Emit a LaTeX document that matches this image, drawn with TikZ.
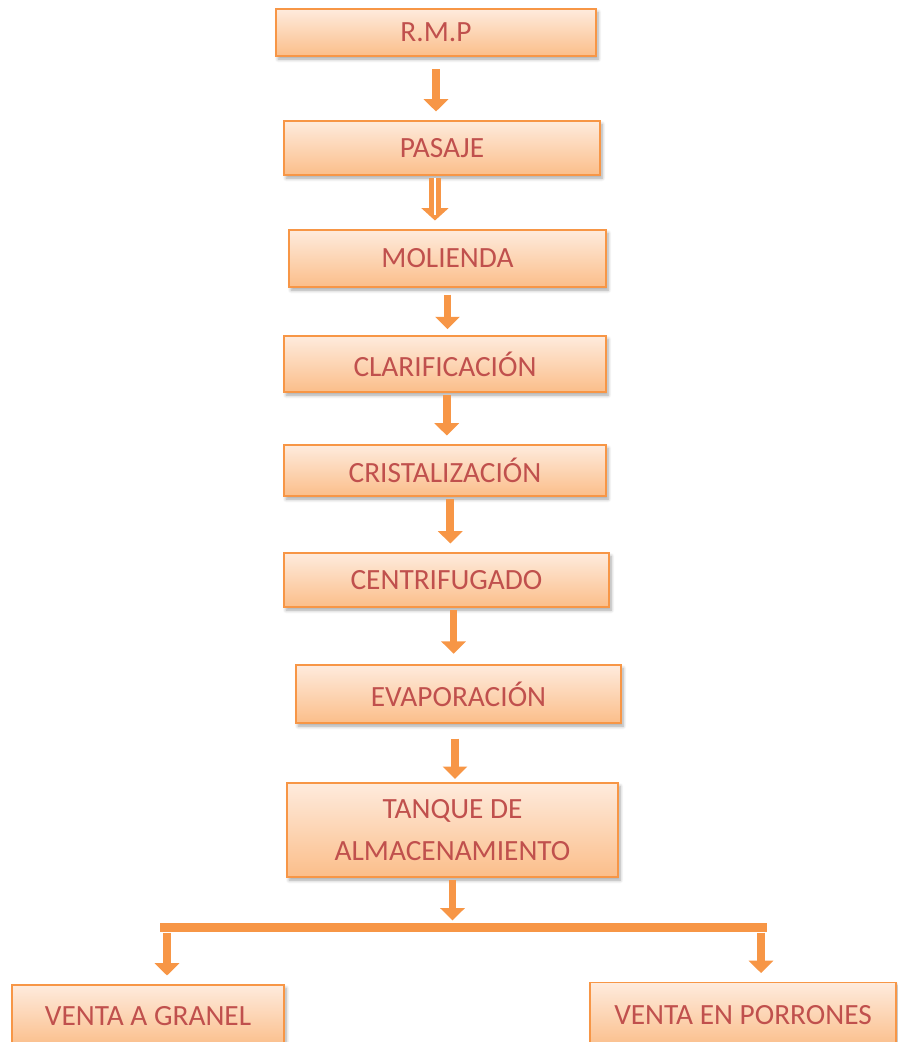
\documentclass[tikz,border=0pt]{standalone}
\usepackage{fontspec}
\setmainfont{Carlito}
\usetikzlibrary{arrows.meta}
\usetikzlibrary{shadows.blur}
\definecolor{boxline}{HTML}{F79646}
\definecolor{boxtop}{HTML}{FEEBDD}
\definecolor{boxbot}{HTML}{FBBE8A}
\definecolor{labelred}{HTML}{C0504D}

\tikzset{
  stepbox/.style={draw=boxline, line width=0.8pt, top color=boxtop, bottom color=boxbot,
    text=labelred, font=\fontsize{16.7}{23.5}\selectfont, align=center, inner sep=0pt,
    blur shadow={shadow xshift=1.2pt, shadow yshift=-1.8pt, shadow blur steps=6, shadow opacity=35}},
  flow/.style={draw=boxline, line width=4.3pt, -{Triangle[width=13.6pt, length=7pt]},
    shorten <=1.5pt, shorten >=5pt},
  twinflow/.style={flow, line width=6.5pt, -{Triangle[width=15pt, length=7pt]},
    postaction={draw=white, line width=1.6pt, -, shorten >=8pt}},
  splitbar/.style={draw=boxline, line width=5.1pt}
}

\begin{document}
\begin{tikzpicture}[x=0.02cm, y=-0.02cm]
	\useasboundingbox (0,0) rectangle (897,1042);

	\node[stepbox, minimum width=6.4cm, minimum height=0.94cm] (rmp) at (436,32.5) {R.M.P};
	\node[stepbox, minimum width=6.32cm, minimum height=1.08cm] (pasaje) at (442,148) {PASAJE};
	\node[stepbox, minimum width=6.34cm, minimum height=1.14cm] (molienda) at (447.5,258.5) {MOLIENDA};
	\node[stepbox, minimum width=6.44cm, minimum height=1.12cm] (clarif) at (445,364) {CLARIFICACIÓN};
	\node[stepbox, minimum width=6.44cm, minimum height=1.02cm] (cristal) at (445,470.5) {CRISTALIZACIÓN};
	\node[stepbox, minimum width=6.5cm, minimum height=1.08cm] (centrif) at (446.5,580) {CENTRIFUGADO};
	\node[stepbox, minimum width=6.5cm, minimum height=1.16cm] (evap) at (458.5,694) {EVAPORACIÓN};
	\node[stepbox, minimum width=6.62cm, minimum height=1.88cm] (tanque) at (452.5,830) {TANQUE DE\\ALMACENAMIENTO};
	\node[stepbox, minimum width=5.44cm, minimum height=1.24cm] (granel) at (148,1016) {VENTA A GRANEL};
	\node[stepbox, minimum width=6.12cm, minimum height=1.3cm] (porrones) at (743,1015) {VENTA EN PORRONES};

	% arrows between the steps
	\draw[flow, shorten <=7pt] (rmp.south) -- (rmp.south |- pasaje.north);
	\draw[twinflow] ([xshift=-4pt]pasaje.south) -- ([xshift=-4pt]pasaje.south |- molienda.north);
	\draw[flow, shorten <=4pt, shorten >=3.5pt] (molienda.south) -- (molienda.south |- clarif.north);
	\draw[flow] ([xshift=1pt]clarif.south) -- ([xshift=1pt]clarif.south |- cristal.north);
	\draw[flow] ([xshift=3pt]cristal.south) -- ([xshift=3pt]cristal.south |- centrif.north);
	\draw[flow, shorten >=6pt] ([xshift=4pt]centrif.south) -- ([xshift=4pt]centrif.south |- evap.north);
	\draw[flow, shorten <=8.5pt, shorten >=2pt] ([xshift=-2pt]evap.south) -- ([xshift=-2pt]evap.south |- tanque.north);

	% split to both sales
	\coordinate (barL) at (160,927.5);
	\coordinate (barR) at (767,927.5);
	\draw[splitbar] (barL) -- (barR);
	\draw[flow, shorten >=4pt] (tanque.south) -- (tanque.south |- barL);
	\coordinate (splitL) at (167,930);
	\coordinate (splitR) at (761,930);
	\draw[flow] (splitL) -- (splitL |- granel.north);
	\draw[flow] (splitR) -- (splitR |- porrones.north);
\end{tikzpicture}
\end{document}
